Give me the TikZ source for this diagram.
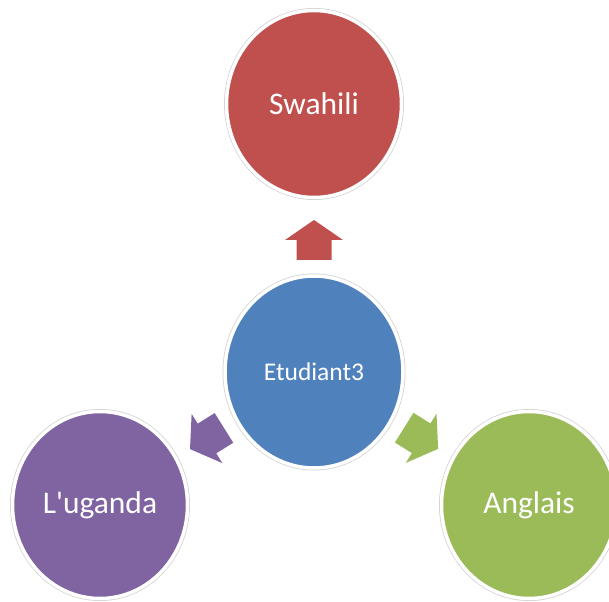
\documentclass[tikz,border=0pt]{standalone}
\usepackage{fontspec}
\setmainfont{Carlito}
\usepackage{xcolor}
\usetikzlibrary{shapes.geometric,calc}

\definecolor{swred}{HTML}{C0504D}
\definecolor{stublue}{HTML}{4F81BD}
\definecolor{ugpurple}{HTML}{8064A2}
\definecolor{angreen}{HTML}{9BBB59}

\tikzset{
  bubble/.style={ellipse, inner sep=0pt, text=white,
    preaction={draw=black!18, line width=5pt},
    draw=white, line width=3.5pt,
    minimum width=175pt, minimum height=187pt, font=\fontsize{31.5}{36}\selectfont},
}

\begin{document}
\begin{tikzpicture}[x=1pt,y=1pt]
            \useasboundingbox (0,0) rectangle (609,601);
            \clip (0,0) rectangle (609,601);
            \node[bubble, fill=swred] (sw) at (314,497) {Swahili};
            \node[bubble, fill=stublue, minimum width=178pt, minimum height=192pt,
                  font=\fontsize{25.5}{30}\selectfont] (stu) at (314,229) {Etudiant3};
            \node[bubble, fill=ugpurple] (ug) at (100,96) {L\textquotesingle uganda};
            \node[bubble, fill=angreen] (an) at (529,96) {Anglais};
            \foreach \tgt/\ang/\dist/\col in {sw/90/132/swred,ug/212/126/ugpurple,an/-32/126/angreen} {
                    \fill[\col, shift={($(stu)!\dist pt!(\tgt)$)}, rotate=\ang]
                        (-20,-17.5) -- (0,-17.5) -- (0,-29) -- (20,0) -- (0,29) -- (0,17.5) -- (-20,17.5) -- cycle;
                }
        \end{tikzpicture}
\end{document}
